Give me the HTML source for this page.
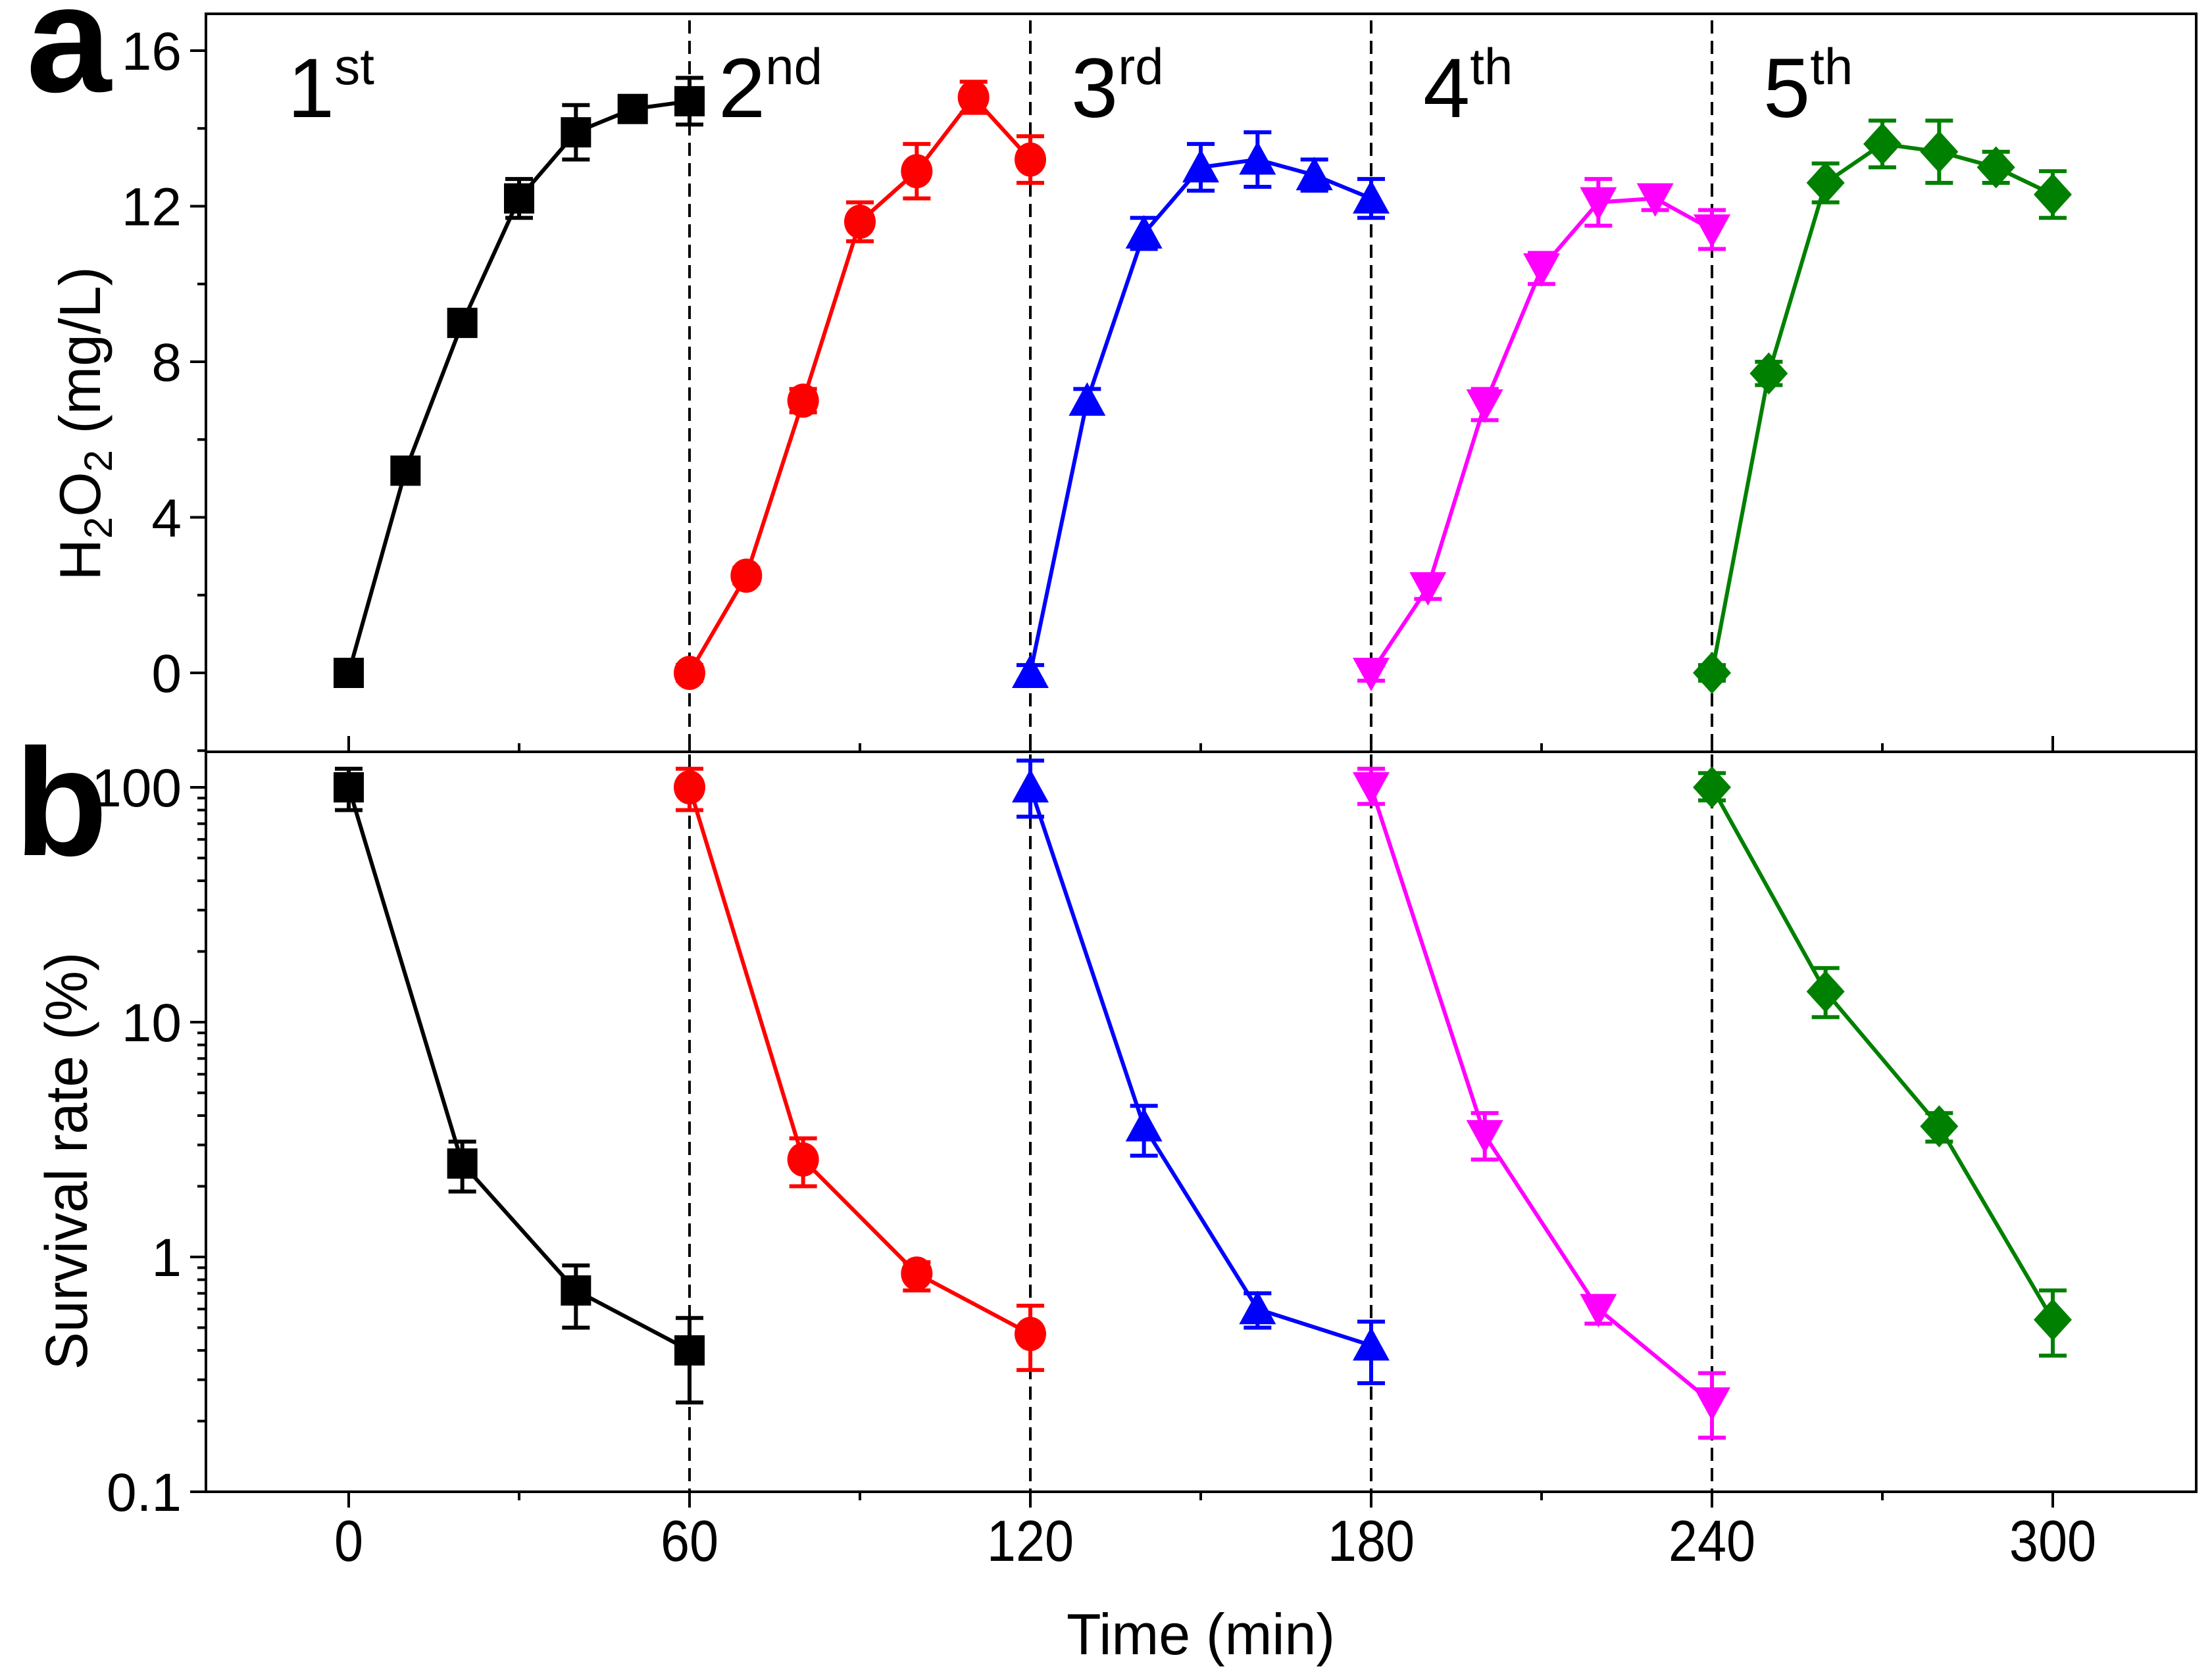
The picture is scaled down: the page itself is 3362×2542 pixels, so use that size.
<!DOCTYPE html>
<html><head><meta charset="utf-8"><style>
html,body{margin:0;padding:0;background:#fff;}
svg{display:block;}
text{font-family:"Liberation Sans",Arial,sans-serif;}
</style></head><body>
<svg id="chart" width="3362" height="2542" viewBox="0 0 3362 2542" xmlns="http://www.w3.org/2000/svg">
<g id="frame"></g>
<g id="marks"></g>
<g id="labels"></g>
</svg>
<script>
// ---- data ----
const xTicks = [0,60,120,180,240,300];
const aTicks = [0,4,8,12,16];
const bTicks = [0.1,1,10,100];
const bTickLabels = ["0.1","1","10","100"];
const cycleNames = ["1","2","3","4","5"];
const cycleSup = ["st","nd","rd","th","th"];
const colors = ["#000000","#ff0000","#0000ff","#ff00ff","#008000"];
const markers = ["square","circle","up","down","diamond"];
const h2o2Offsets = [0,10,20,30,40,50,60];
const h2o2Values = [
 [0,5.2,9.0,12.2,13.9,14.5,14.7],
 [0,2.5,7.0,11.6,12.9,14.8,13.2],
 [0,7.0,11.3,13.0,13.2,12.8,12.2],
 [0,2.2,6.9,10.4,12.1,12.2,11.4],
 [0,7.7,12.6,13.6,13.4,13.0,12.3]
];
const h2o2Err = [
 [0.2,0.2,0.2,0.5,0.7,0.3,0.6],
 [0.2,0.2,0.3,0.5,0.7,0.4,0.6],
 [0.2,0.3,0.4,0.6,0.7,0.4,0.5],
 [0.2,0.3,0.4,0.4,0.6,0.3,0.5],
 [0.2,0.3,0.5,0.6,0.8,0.4,0.6]
];
const survOffsets = [0,20,40,60];
const survValues = [
 [100,2.5,0.72,0.40],
 [100,2.6,0.85,0.47],
 [100,3.6,0.60,0.42],
 [100,3.3,0.60,0.24],
 [100,13.5,3.6,0.54]
];
const survHi = [
 [120,3.1,0.92,0.55],
 [120,3.2,0.95,0.62],
 [130,4.4,0.70,0.53],
 [120,4.1,0.65,0.32],
 [115,17,4.1,0.72]
];
const survLo = [
 [80,1.9,0.50,0.24],
 [80,2.0,0.72,0.33],
 [75,2.7,0.50,0.29],
 [85,2.6,0.52,0.17],
 [88,10.5,3.1,0.38]
];
// ---- layout ----
const L=313,R=3338,T=21,MID=1143,B=2268;
const X=v=>530+(v/60)*518;
const YA=v=>1023-(v/16)*(1023-77);
const YB=v=>2268-(Math.log10(v)+1)*357;
const NS="http://www.w3.org/2000/svg";
function mk(tag,attrs,parent){const e=document.createElementNS(NS,tag);for(const k in attrs)e.setAttribute(k,attrs[k]);parent.appendChild(e);return e;}
const frame=document.getElementById('frame'),marks=document.getElementById('marks'),labels=document.getElementById('labels');
let r=mk('rect',{x:L,y:T,width:R-L,height:B-T,fill:'none',stroke:'#000','stroke-width':4},frame);


let d=mk('line',{x1:L,x2:R,y1:MID,y2:MID,stroke:'#000','stroke-width':4},frame);


for(let v=0;v<=390;v+=30){
  const x=X(v); if(x<L||x>R) continue;
  const major=v%60===0;
  let t=mk('line',{x1:x,x2:x,y1:B,y2:B+(major?24:13),stroke:'#000','stroke-width':4},frame);
  
  
  let t2=mk('line',{x1:x,x2:x,y1:MID,y2:MID-(major?24:13),stroke:'#000','stroke-width':4},frame);
  
  
}
xTicks.forEach(v=>{
  let t=mk('text',{x:X(v),y:2373,'font-size':88,'text-anchor':'middle',transform:`translate(${X(v)},0) scale(0.9,1) translate(${-X(v)},0)`},labels);
  t.textContent=v;
  
  
});
for(let v=-2;v<=16;v+=2){
  const y=YA(v); if(y>MID||y<T) continue;
  const major=v%4===0;
  let t=mk('line',{x1:L,x2:L-(major?24:13),y1:y,y2:y,stroke:'#000','stroke-width':4},frame);
  
  
}
aTicks.forEach(v=>{
  let t=mk('text',{x:276,y:YA(v)+29,'font-size':82,'text-anchor':'end'},labels);
  t.textContent=v;
  
  
});
for(let e=-1;e<=2;e++){
  for(let m=1;m<=9;m++){
    const v=m*Math.pow(10,e); const y=YB(v); if(y<MID) continue;
    let t=mk('line',{x1:L,x2:L-(m===1?24:13),y1:y,y2:y,stroke:'#000','stroke-width':4},frame);
    
    
  }
}
bTicks.forEach((v,i)=>{
  let t=mk('text',{x:276,y:YB(v)+29,'font-size':82,'text-anchor':'end'},labels);
  t.textContent=bTickLabels[i];
  
  
});
[60,120,180,240].forEach(v=>{
  let l=mk('line',{x1:X(v),x2:X(v),y1:T+10,y2:B,stroke:'#000','stroke-width':4,'stroke-dasharray':'20,11'},frame);
  
  
});
function marker(kind,cx,cy,color,parent){
  const s=23;let e;
  if(kind==='square') e=mk('rect',{x:cx-s,y:cy-s,width:2*s,height:2*s,fill:color},parent);
  else if(kind==='circle') e=mk('ellipse',{cx:cx,cy:cy,rx:s+1,ry:s+3,fill:color},parent);
  else if(kind==='up') e=mk('polygon',{points:`${cx},${cy-s-5} ${cx+s+5},${cy+s} ${cx-s-5},${cy+s}`,fill:color},parent);
  else if(kind==='down') e=mk('polygon',{points:`${cx},${cy+s+5} ${cx+s+5},${cy-s} ${cx-s-5},${cy-s}`,fill:color},parent);
  else e=mk('polygon',{points:`${cx},${cy-s-9} ${cx+s+6},${cy} ${cx},${cy+s+9} ${cx-s-6},${cy}`,fill:color},parent);
  return e;
}
function errbar(x,y1,y2,color,parent){
  const g=mk('g',{stroke:color,'stroke-width':6},parent);
  mk('line',{x1:x,x2:x,y1:y1,y2:y2},g);
  mk('line',{x1:x-21,x2:x+21,y1:y1,y2:y1},g);
  mk('line',{x1:x-21,x2:x+21,y1:y2,y2:y2},g);
  return g;
}
for(let c=0;c<5;c++){
  const col=colors[c], base=c*60;
  const ga=mk('g',{},marks);
  
  
  const ptsA=h2o2Offsets.map((o,i)=>[X(base+o),YA(h2o2Values[c][i])]);
  mk('polyline',{points:ptsA.map(p=>p.join(',')).join(' '),fill:'none',stroke:col,'stroke-width':6},ga);
  h2o2Offsets.forEach((o,i)=>{
    const v=h2o2Values[c][i],e=h2o2Err[c][i];
    errbar(X(base+o),YA(v+e),YA(v-e),col,ga);
    const m=marker(markers[c],X(base+o),YA(v),col,ga);
    
    
  });
  const gb=mk('g',{},marks);
  
  
  const ptsB=survOffsets.map((o,i)=>[X(base+o),YB(survValues[c][i])]);
  mk('polyline',{points:ptsB.map(p=>p.join(',')).join(' '),fill:'none',stroke:col,'stroke-width':6},gb);
  survOffsets.forEach((o,i)=>{
    errbar(X(base+o),YB(survHi[c][i]),YB(survLo[c][i]),col,gb);
    const m=marker(markers[c],X(base+o),YB(survValues[c][i]),col,gb);
    
    
  });
  const lx=[437,1092,1628,2163,2680][c];
  const t=mk('text',{x:lx,y:178,'font-size':128},labels);
  
  
  const s1=mk('tspan',{},t); s1.textContent=cycleNames[c];
  const s2=mk('tspan',{'font-size':78,dy:-50},t); s2.textContent=cycleSup[c];
}
</script>
<svg style="position:absolute;left:0;top:0" width="3362" height="2542">
<text x="40" y="139" font-size="232" font-weight="bold" font-family="Liberation Sans, sans-serif">a</text>
<text x="22" y="1300" font-size="232" font-weight="bold" font-family="Liberation Sans, sans-serif">b</text>
<text transform="translate(152,644) rotate(-90)" text-anchor="middle" font-size="88" font-family="Liberation Sans, sans-serif">H<tspan font-size="60" dy="18">2</tspan><tspan dy="-18">O</tspan><tspan font-size="60" dy="18">2</tspan><tspan dy="-18"> (mg/L)</tspan></text>
<text transform="translate(132,1765) rotate(-90)" text-anchor="middle" font-size="90" font-family="Liberation Sans, sans-serif" textLength="635" lengthAdjust="spacingAndGlyphs">Survival rate (%)</text>
<text x="1621" y="2515" font-size="88" font-family="Liberation Sans, sans-serif" textLength="408" lengthAdjust="spacingAndGlyphs">Time (min)</text>
</svg>
</body></html>
